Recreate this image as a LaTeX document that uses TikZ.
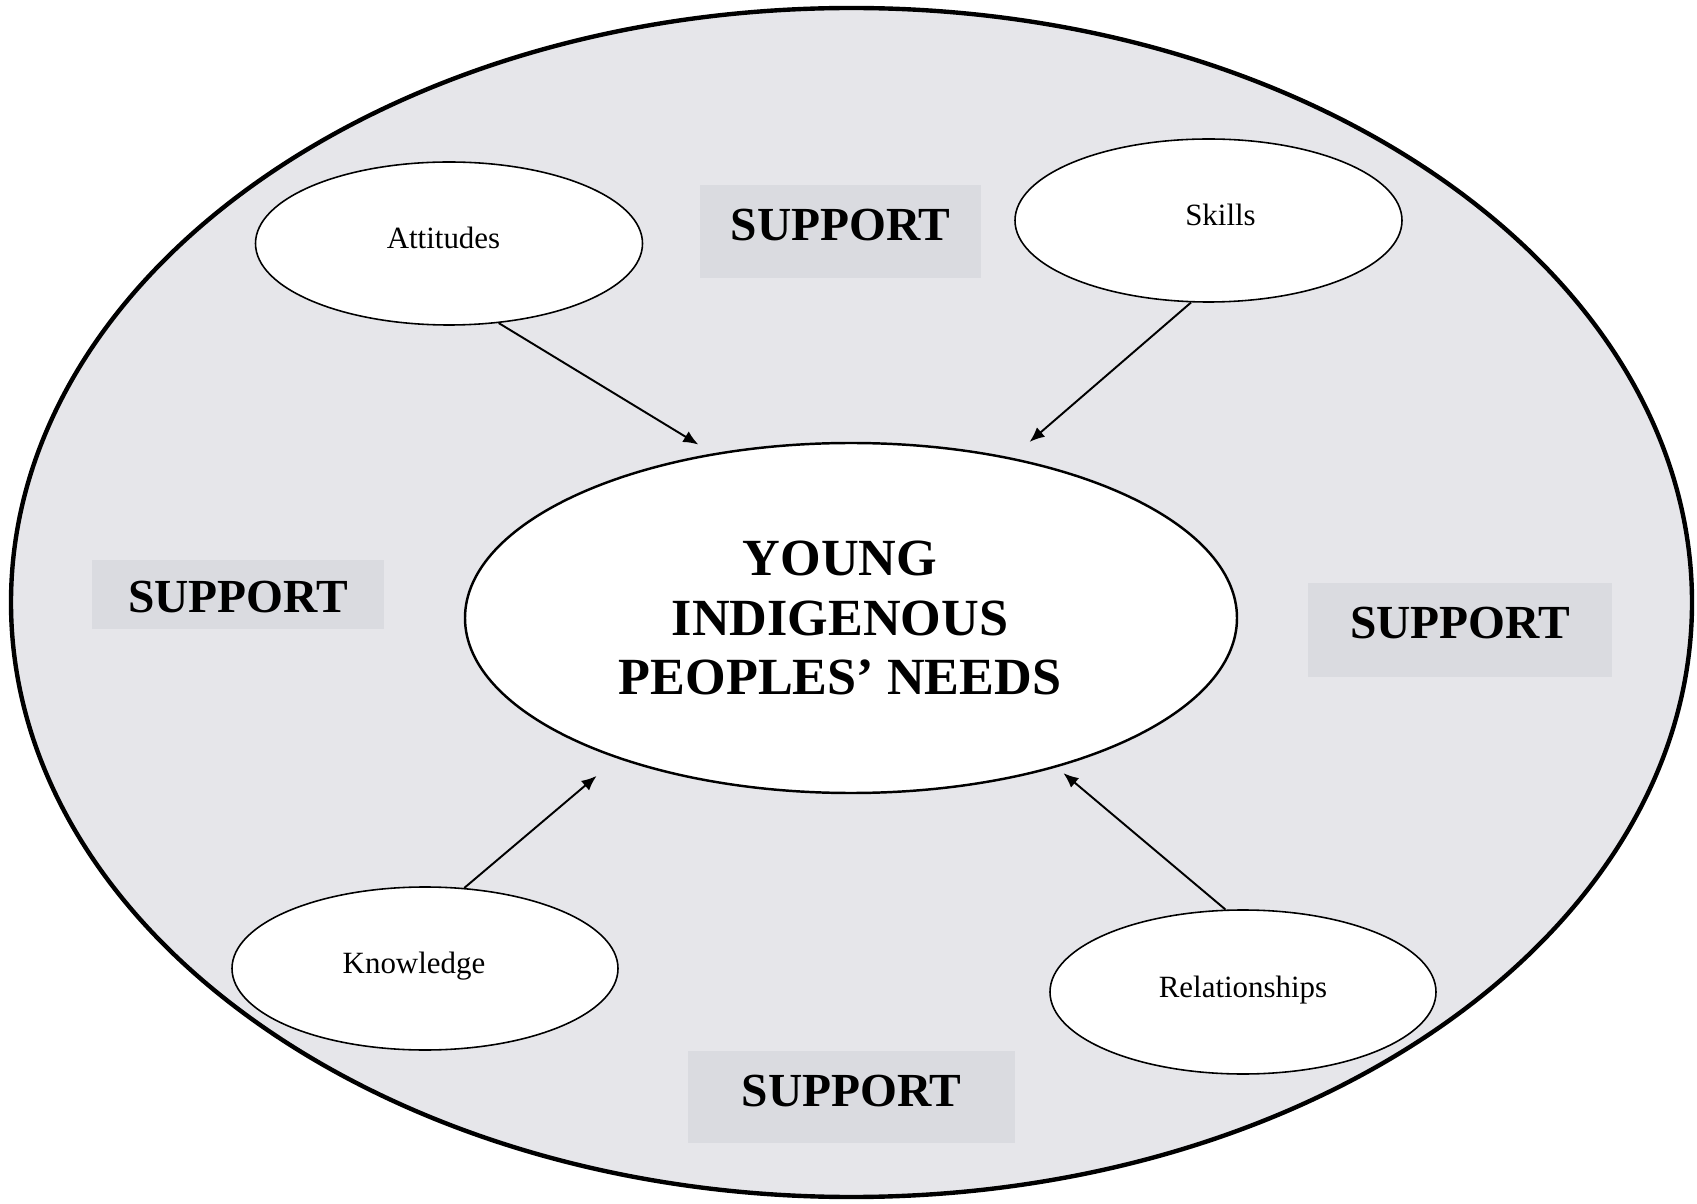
\documentclass[tikz,border=0pt]{standalone}
\usepackage{fontspec}
\setmainfont{Liberation Serif}
\usepackage{tikz}
\usetikzlibrary{arrows.meta,shapes.geometric}

\definecolor{ringfill}{HTML}{E6E6EA}
\definecolor{boxfill}{HTML}{DADBE0}

\tikzset{
	needbubble/.style={draw, ellipse, fill=white, line width=0.45pt, inner sep=0pt,
		text height=0.25cm, text depth=0.15cm, font=\fontsize{8.8}{10.5}\selectfont},
	supportbox/.style={fill=boxfill, inner sep=0pt, text height=0.55cm, text depth=0.38cm,
		font=\fontsize{13.5}{16}\selectfont\bfseries},
	feeds/.style={-{Latex[length=1.5mm,width=1.25mm]}, line width=0.55pt}
}

\begin{document}
\begin{tikzpicture}
			%%%%% START %%%%%
			\useasboundingbox (0, 0) rectangle (16.97, 12.03);
			
			\draw[line width=1.25pt, fill=ringfill] (8.515, 6.005) ellipse (8.405 and 5.945);
			
			\node[supportbox, minimum width=2.81cm] (supporttop) at (8.405, 9.71) {SUPPORT};
			\node[supportbox, minimum width=2.92cm, text height=0.53cm, text depth=0.16cm] (supportleft) at (2.38, 6.085) {SUPPORT};
			\node[supportbox, minimum width=3.04cm, text depth=0.39cm] (supportright) at (14.60, 5.73) {SUPPORT};
			\node[supportbox, minimum width=3.27cm, text depth=0.37cm] (supportbottom) at (8.515, 1.06) {SUPPORT};
			
			\node[draw, ellipse, fill=white, line width=0.7pt, minimum width=7.72cm, minimum height=3.5cm,
				align=center, font=\fontsize{14.85}{16.9}\selectfont\bfseries] (needs) at (8.51, 5.85)
				{YOUNG\kern0.22cm\\INDIGENOUS\kern0.22cm\\PEOPLES’ NEEDS\kern0.22cm};
			
			\node[needbubble, minimum width=3.87cm, minimum height=1.63cm] (attitudes) at (4.49, 9.595) {Attitudes\kern0.11cm};
			\node[needbubble, minimum width=3.87cm, minimum height=1.63cm] (skills) at (12.085, 9.825) {\kern0.24cm Skills};
			\node[needbubble, minimum width=3.86cm, minimum height=1.63cm] (knowledge) at (4.25, 2.345) {Knowledge\kern0.22cm};
			\node[needbubble, minimum width=3.86cm, minimum height=1.64cm] (relationships) at (12.43, 2.11) {Relationships};
			
			\draw[feeds, shorten >=0.17cm] (attitudes.-58) -- (needs.130.6);
			\draw[feeds, shorten >=0.24cm] (skills.258) -- (needs.45);
			\draw[feeds, shorten >=0.27cm] (knowledge.64) -- (needs.211);
			\draw[feeds, shorten >=0.09cm] (relationships.102) -- (needs.-36);
			
			%%%%% END %%%%%
		\end{tikzpicture}
\end{document}
